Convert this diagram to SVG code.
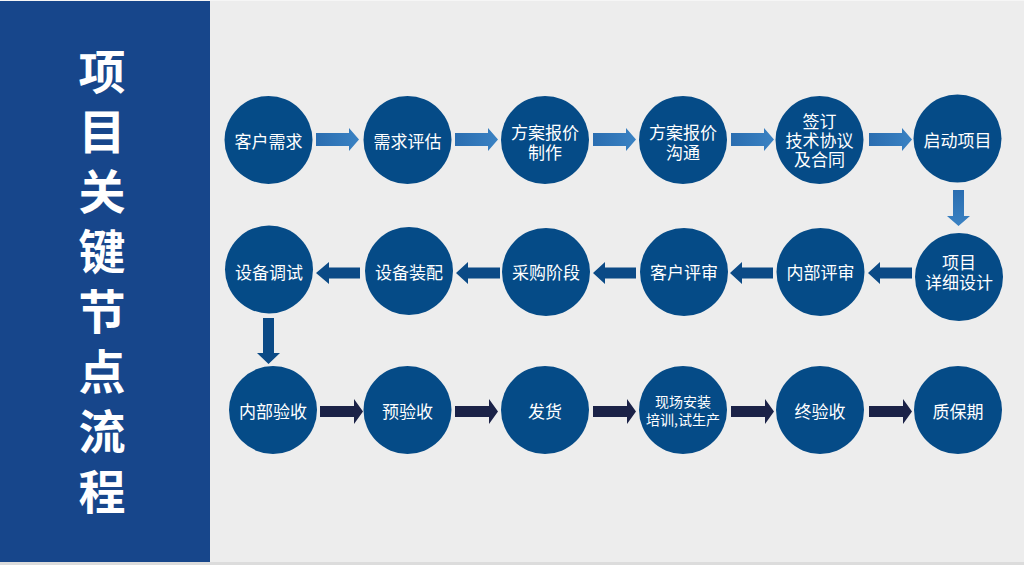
<svg xmlns="http://www.w3.org/2000/svg" width="1024" height="565" viewBox="0 0 1024 565">
<defs>
<style>
.node circle{fill:#054B87;}
.node text{fill:#ffffff;font-family:"Noto Sans CJK SC","Noto Sans",sans-serif;font-size:17px;text-anchor:middle;}
.node text.sm{font-size:14px;}
.title{fill:#ffffff;font-family:"Noto Sans CJK SC","Noto Sans",sans-serif;font-size:47px;font-weight:700;text-anchor:middle;}
.a1{fill:url(#g1);}
.a2{fill:#0B4A86;}
.a3{fill:#1B2247;}
</style>
<linearGradient id="g1" x1="0" y1="0" x2="1" y2="0">
<stop offset="0" stop-color="#2A6DB0"/>
<stop offset="1" stop-color="#3A82C3"/>
</linearGradient>
<linearGradient id="g2" x1="0" y1="0" x2="0" y2="1">
<stop offset="0" stop-color="#2A6DB0"/>
<stop offset="1" stop-color="#3A82C3"/>
</linearGradient>
</defs>
<rect x="0" y="0" width="1024" height="565" fill="#EDEDED"/>
<rect x="0" y="562" width="1024" height="3" fill="#DCDCDC"/>
<rect x="0" y="0" width="1024" height="1" fill="#F6F6F6"/>
<g id="title-panel">
<rect x="0" y="1" width="210" height="561" fill="#17468B"/>
<text class="title" x="102" y="89">项<tspan x="102" dy="60">目</tspan><tspan x="102" dy="60">关</tspan><tspan x="102" dy="60">键</tspan><tspan x="102" dy="60">节</tspan><tspan x="102" dy="60">点</tspan><tspan x="102" dy="60">流</tspan><tspan x="102" dy="60">程</tspan></text>
</g>
<g id="connectors">
<polygon class="a1" points="316,133 349,133 349,128 359,139.5 349,151 349,146 316,146"/>
<polygon class="a1" points="455,133 488,133 488,128 498,139.5 488,151 488,146 455,146"/>
<polygon class="a1" points="593,133 626,133 626,128 636,139.5 626,151 626,146 593,146"/>
<polygon class="a1" points="731,133 764,133 764,128 774,139.5 764,151 764,146 731,146"/>
<polygon class="a1" points="869,133 902,133 902,128 912,139.5 902,151 902,146 869,146"/>
<polygon fill="url(#g2)" points="953,190 964,190 964,216 970,216 958.5,226 947,216 953,216"/>
<polygon class="a2" points="912,267.5 880,267.5 880,262 868,273 880,284 880,278.5 912,278.5"/>
<polygon class="a2" points="773,267.5 742,267.5 742,262 730,273 742,284 742,278.5 773,278.5"/>
<polygon class="a2" points="636,267.5 605,267.5 605,262 593,273 605,284 605,278.5 636,278.5"/>
<polygon class="a2" points="500,267.5 468,267.5 468,262 456,273 468,284 468,278.5 500,278.5"/>
<polygon class="a2" points="360,267.5 329,267.5 329,262 316,273 329,284 329,278.5 360,278.5"/>
<polygon class="a2" points="263,318 274,318 274,353 280,353 268.5,364 257,353 263,353"/>
<polygon class="a3" points="320,406 354,406 354,399 363,411.5 354,424 354,417 320,417"/>
<polygon class="a3" points="455,406 489,406 489,399 498,411.5 489,424 489,417 455,417"/>
<polygon class="a3" points="593,406 627,406 627,399 636,411.5 627,424 627,417 593,417"/>
<polygon class="a3" points="731,406 765,406 765,399 774,411.5 765,424 765,417 731,417"/>
<polygon class="a3" points="869,406 903,406 903,399 912,411.5 903,424 903,417 869,417"/>
</g>
<g id="n1" class="node"><circle cx="268.5" cy="140" r="44"/><text x="268.5" y="148">客户需求</text></g>
<g id="n2" class="node"><circle cx="407.5" cy="140" r="44"/><text x="407.5" y="148">需求评估</text></g>
<g id="n3" class="node"><circle cx="545" cy="140" r="44"/><text x="545" y="139">方案报价<tspan x="545" dy="20">制作</tspan></text></g>
<g id="n4" class="node"><circle cx="683" cy="140" r="44"/><text x="683" y="139">方案报价<tspan x="683" dy="20">沟通</tspan></text></g>
<g id="n5" class="node"><circle cx="819.5" cy="140" r="44"/><text x="819.5" y="128">签订<tspan x="819.5" dy="19">技术协议</tspan><tspan x="819.5" dy="19">及合同</tspan></text></g>
<g id="n6" class="node"><circle cx="957.5" cy="138.5" r="44"/><text x="957.5" y="147">启动项目</text></g>
<g id="n7" class="node"><circle cx="959" cy="277" r="44"/><text x="959" y="269">项目<tspan x="959" dy="20">详细设计</tspan></text></g>
<g id="n8" class="node"><circle cx="820.5" cy="272" r="44"/><text x="820.5" y="279">内部评审</text></g>
<g id="n9" class="node"><circle cx="684" cy="272" r="44"/><text x="684" y="279">客户评审</text></g>
<g id="n10" class="node"><circle cx="546" cy="272" r="44"/><text x="546" y="279">采购阶段</text></g>
<g id="n11" class="node"><circle cx="409" cy="271" r="44"/><text x="409" y="279">设备装配</text></g>
<g id="n12" class="node"><circle cx="269" cy="269.5" r="44"/><text x="269" y="279">设备调试</text></g>
<g id="n13" class="node"><circle cx="273" cy="410" r="44"/><text x="273" y="418">内部验收</text></g>
<g id="n14" class="node"><circle cx="407.5" cy="410" r="44"/><text x="407.5" y="418">预验收</text></g>
<g id="n15" class="node"><circle cx="545" cy="410" r="44"/><text x="545" y="418">发货</text></g>
<g id="n16" class="node"><circle cx="683" cy="410" r="44"/><text class="sm" x="683" y="407">现场安装<tspan x="683" dy="18">培训,试生产</tspan></text></g>
<g id="n17" class="node"><circle cx="820" cy="410" r="44"/><text x="820" y="418">终验收</text></g>
<g id="n18" class="node"><circle cx="958" cy="410" r="44"/><text x="958" y="418">质保期</text></g>
</svg>
